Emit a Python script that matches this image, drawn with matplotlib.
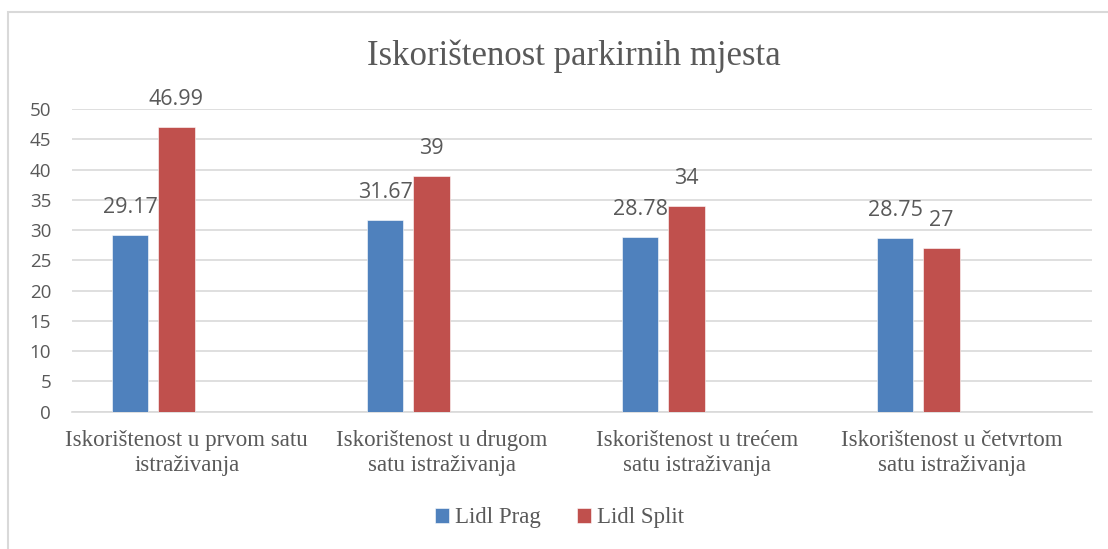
import numpy as np
import matplotlib.pyplot as plt
from matplotlib.patches import Rectangle

categories = ["Iskorištenost u prvom satu\nistraživanja",
              "Iskorištenost u drugom\nsatu istraživanja",
              "Iskorištenost u trećem\nsatu istraživanja",
              "Iskorištenost u četvrtom\nsatu istraživanja"]
series_names = ["Lidl Prag", "Lidl Split"]
prag = [29.17, 31.67, 28.78, 28.75]
split = [46.99, 39, 34, 27]
y_ticks = [0, 5, 10, 15, 20, 25, 30, 35, 40, 45, 50]

blue = "#4F81BD"
red = "#C0504D"
grey_text = "#595959"
grid_col = "#D9D9D9"
serif = "Liberation Serif"
sans = "Open Sans"

fig = plt.figure(figsize=(11.08, 5.49), dpi=100)
ax = fig.add_axes([72 / 1108, 137.3 / 549, 1020 / 1108, 302.7 / 549])

# clustered layout with four slots per category, only the first two used
x = np.arange(len(categories))
slot = 0.1815
width = 0.1435
offsets = [-1.5 * slot, -0.5 * slot]

for vals, col, off, name in zip([prag, split], [blue, red], offsets, series_names):
    bars = ax.bar(x + off, vals, width, color=col, label=name,
                  edgecolor="white", linewidth=0.4, zorder=3)
    for b, v in zip(bars, vals):
        ax.annotate(f"{v:g}", (b.get_x() + b.get_width() / 2, v),
                    xytext=(0, 17), textcoords="offset pixels",
                    ha="center", va="bottom", fontsize=15.5,
                    family=sans, color=grey_text)

ax.set_xlim(-0.5, len(categories) - 0.5)
ax.set_ylim(0, 50)
ax.set_yticks(y_ticks)
ax.yaxis.grid(True, color=grid_col, linewidth=1.2, zorder=0)
# category labels sit a little left of the group centre
ax.set_xticks(x - 0.05)
ax.set_xticklabels(categories, family=serif, fontsize=16.5,
                   color=grey_text, linespacing=1.25)
for lab in ax.get_yticklabels():
    lab.set_family(sans)
ax.tick_params(axis="y", length=0, pad=15, labelsize=13.5, labelcolor=grey_text)
ax.tick_params(axis="x", length=0, pad=13)
for s in ["top", "right", "left"]:
    ax.spines[s].set_visible(False)
ax.spines["bottom"].set_color(grid_col)
ax.spines["bottom"].set_linewidth(1.2)

fig.text(574 / 1108, 1 - 56 / 549, "Iskorištenost parkirnih mjesta",
         ha="center", va="center", family=serif, fontsize=25, color=grey_text)

fig.legend(loc="center", bbox_to_anchor=(559.5 / 1108, 1 - 518 / 549),
           ncol=2, frameon=False, prop={"family": serif, "size": 16.5},
           labelcolor=grey_text, handlelength=0.6, handleheight=0.6,
           handletextpad=0.25, columnspacing=1.6)

# chart area border
fig.patches.append(Rectangle((8 / 1108, -0.1), 1.2, 1 - 12 / 549 + 0.1,
                             transform=fig.transFigure, fill=False,
                             edgecolor=grid_col, linewidth=1.5))

fig.savefig("out.png", dpi=100)
